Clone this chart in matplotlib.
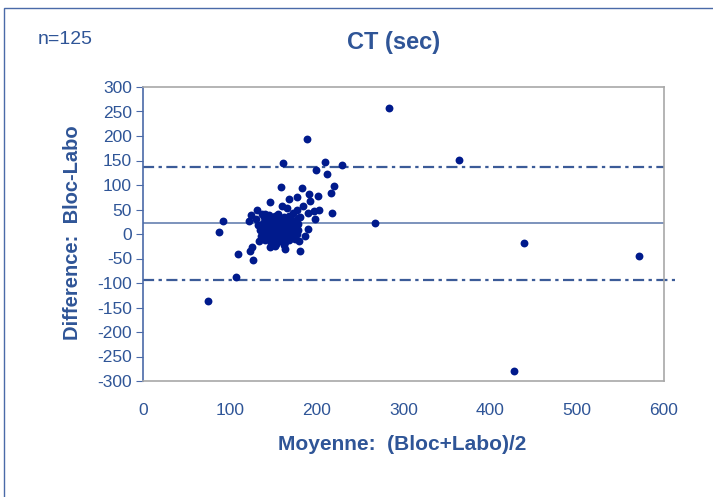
import matplotlib.pyplot as plt
from matplotlib.patches import Rectangle

# Bland-Altman: CT (sec), Bloc vs Labo
moyenne = [283, 364, 439, 571, 427, 75, 188.6, 161, 210, 229, 199, 212, 158.6, 183, 220,
           217, 146, 168.5, 177, 191.6, 201, 192, 184.7, 160, 165.5, 131, 124, 140.5, 177,
           190, 197, 203, 218, 197.8, 181, 173, 92.5, 267, 122.5, 87, 190, 186.6, 109, 123,
           125, 127, 163, 181, 146, 152, 107.5,
           130, 133, 135, 136, 138, 139, 140, 141, 142, 143, 144, 145, 146, 147, 147, 148,
           149, 150, 150, 151, 152, 152, 153, 153, 154, 155, 155, 156, 156, 157, 157, 158,
           158, 159, 159, 160, 160, 161, 161, 162, 162, 163, 163, 164, 164, 165, 165, 166,
           166, 167, 168, 168, 169, 170, 170, 171, 172, 172, 173, 174, 175, 175, 176, 177,
           178, 179, 180, 134, 137, 145, 155, 162, 168, 178]
difference = [257, 151, -18, -45, -280, -137, 193.5, 144, 147, 141, 130, 122, 96, 93, 97,
              83, 65, 71, 75, 82, 77, 67, 57, 57, 53, 49, 39, 40, 49,
              43.5, 47.6, 49, 42, 30, 35, 42, 26, 22.4, 26.5, 3.4, 10, -3.4, -41, -35,
              -26, -54, -31, -35, -27, -24.5, -87,
              30, 18, 8, -5, 22, 35, 12, -12, 2, 28, 18, -8, 8, 32, -18, 15,
              0, 24, -10, 10, 36, 4, -20, 18, 28, -4, 12, 6, 22, -14, 30, 2,
              16, 10, -8, 26, 20, 4, -2, 14, 34, 8, -16, 24, 0, 18, 12, -6,
              28, 6, 20, -12, 14, 2, 30, 24, 10, -4, 18, 6, 26, -10, 14, 0,
              20, 8, -14, -15, 40, 38, 40, -22, 36, 32]

mean_x = [0, 600]
mean_diff = [21.5, 21.5]
upper_x = [0, 600]
upper_loa = [136, 136]
lower_x = [0, 613]
lower_loa = [-94, -94]

txt = "#2f5597"
plt.rcParams["font.family"] = ["Liberation Sans", "DejaVu Sans"]
plt.rcParams["axes.unicode_minus"] = False

fig = plt.figure(figsize=(7.13, 4.97), dpi=100)
fig.patches.append(Rectangle((4 / 713, -0.1), 1.2, 1.1 - 8 / 497, transform=fig.transFigure,
                             fill=False, edgecolor="#4a6aa8", linewidth=1.0))

ax = fig.add_axes([143 / 713, 1 - 381 / 497, 521 / 713, 294 / 497])
ax.scatter(moyenne, difference, s=32, color="#001a8c", zorder=3, linewidths=0)
ax.plot(mean_x, mean_diff, color="#6680b0", lw=1.2, zorder=2)
ax.plot(upper_x, upper_loa, color="#3b5b98", lw=1.6, ls=(0, (5, 2, 1.5, 2)), zorder=2)
ax.plot(lower_x, lower_loa, color="#3b5b98", lw=1.6, ls=(0, (5, 2, 1.5, 2)), zorder=2,
        clip_on=False)

ax.set_xlim(0, 600)
ax.set_ylim(-300, 300)
ax.set_xticks(range(0, 601, 100))
ax.set_yticks(range(-300, 301, 50))

for s in ["top", "right", "bottom"]:
    ax.spines[s].set_color("#a8a8a8")
    ax.spines[s].set_linewidth(1.2)
ax.spines["left"].set_color("#4a6aa8")
ax.spines["left"].set_linewidth(1.2)

ax.tick_params(axis="y", direction="out", length=5, color="#4a6aa8", labelcolor=txt,
               labelsize=12.5, pad=3)
ax.tick_params(axis="x", length=0, labelcolor=txt, labelsize=12.5, pad=16)

fig.text(394 / 713, 1 - 42 / 497, "CT (sec)", ha="center", va="center", fontsize=17,
         fontweight="bold", color=txt)
fig.text(38 / 713, 1 - 39 / 497, "n=125", ha="left", va="center", fontsize=14, color=txt)
fig.text(402 / 713, 1 - 444 / 497, "Moyenne:  (Bloc+Labo)/2", ha="center", va="center",
         fontsize=15, fontweight="bold", color=txt)
fig.text(72 / 713, 1 - 233 / 497, "Difference:  Bloc-Labo", ha="center", va="center",
         rotation=90, fontsize=14.5, fontweight="bold", color=txt)

fig.savefig("out.png", dpi=100)
